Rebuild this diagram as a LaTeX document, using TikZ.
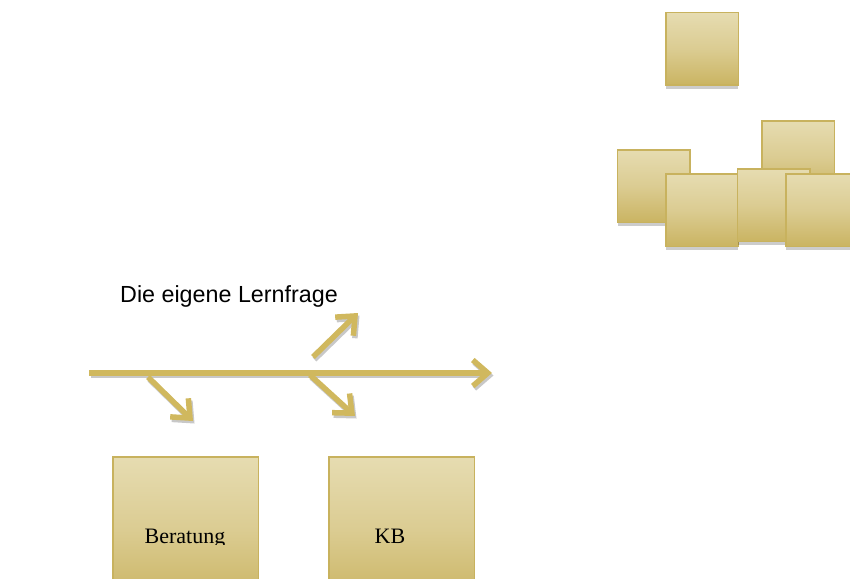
\documentclass[tikz,border=0pt]{standalone}
\usepackage{fontspec}
\setmainfont{Liberation Serif}
\newfontfamily\titlefont{Liberation Sans}
\usetikzlibrary{arrows.meta,shadows}

\definecolor{goldline}{RGB}{208,184,94}
\definecolor{goldtop}{RGB}{230,220,177}
\definecolor{goldmid}{RGB}{219,204,146}
\definecolor{goldbottom}{RGB}{202,180,98}
\definecolor{goldedge}{RGB}{200,178,94}
\definecolor{boneshade}{RGB}{200,200,200}

\tikzset{
  tile/.style={draw=goldedge, line width=1.6pt, top color=goldtop,
    bottom color=goldbottom, middle color=goldmid, anchor=north west,
    inner sep=0pt, minimum width=72.5pt, minimum height=72.5pt,
    drop shadow={shadow xshift=0pt, shadow yshift=-4pt, fill=black, opacity=0.2}},
  bigtile/.style={tile, minimum width=145.5pt, minimum height=145pt},
  tiletext/.style={anchor=base, inner sep=0pt, font=\fontsize{22}{25}\selectfont},
  bone/.style={line width=5.5pt, draw=goldline,
    -{Straight Barb[length=15pt,width=26pt]}},
  boneshadow/.style={bone, draw=boneshade,
    transform canvas={xshift=1.5pt, yshift=-2.5pt}}
}

\begin{document}
\begin{tikzpicture}[x=1pt, y=-1pt]
  \useasboundingbox (0,0) rectangle (850,578);
  \clip (0,0) rectangle (850,578);

  %% Stack of tiles top right
  \node[tile] (tile top) at (665,11.7) {};
  \node[tile] (tile left) at (616.7,149) {};
  \node[tile] (tile back) at (761,120) {};
  \node[tile] (tile front) at (665,173) {};
  \node[tile] (tile mid) at (736.7,168) {};
  \node[tile] (tile right) at (785,173) {};

  %% Title
  \node[anchor=base west, inner sep=0pt, font=\titlefont\fontsize{23.3}{26}\selectfont]
    (question) at (120,302) {Die eigene Lernfrage};

  %% Fish bone
  \coordinate (spine tail) at (89,373);
  \coordinate (spine head) at (492,373);
  \coordinate (bone a tail) at (148,377);
  \coordinate (bone a head) at (193,421);
  \coordinate (bone b tail) at (313,357);
  \coordinate (bone b head) at (358,313);
  \coordinate (bone c tail) at (310,375);
  \coordinate (bone c head) at (355,416);

  \foreach \from/\to in {spine tail/spine head, bone a tail/bone a head,
      bone b tail/bone b head, bone c tail/bone c head}
    \draw[boneshadow] (\from) -- (\to);
  \foreach \from/\to in {bone a tail/bone a head, bone b tail/bone b head,
      bone c tail/bone c head, spine tail/spine head}
    \draw[bone] (\from) -- (\to);

  %% Boxes at the bottom
  \node[bigtile] (beratung box) at (112.3,456.3) {};
  \node[bigtile] (kb box) at (328.3,456.3) {};

  \begin{scope}
    \clip (0,0) rectangle (850,544);
    \node[tiletext] (beratung) at (185,543) {Beratung};
    \node[tiletext] (kb) at (390,543) {KB};
  \end{scope}

\end{tikzpicture}
\end{document}
